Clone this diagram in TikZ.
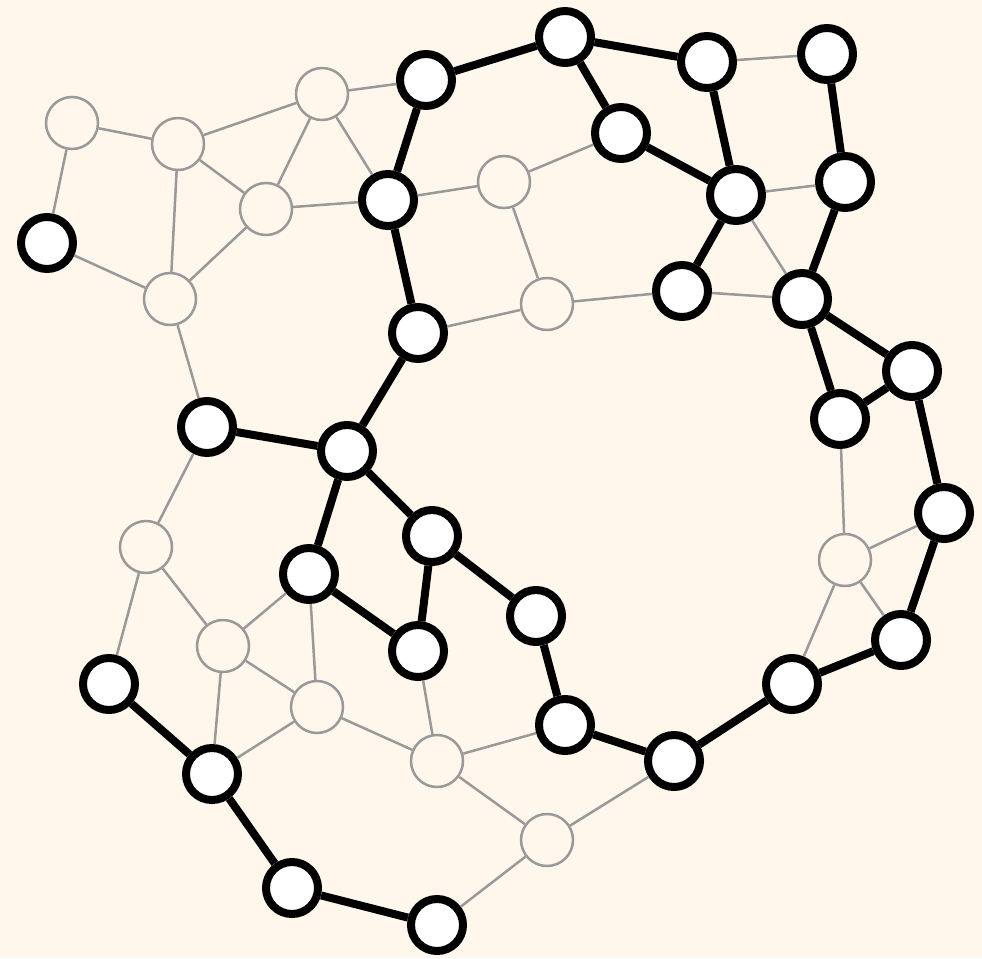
\documentclass[tikz,border=0pt]{standalone}
\definecolor{bgc}{HTML}{FFF7EB}
\definecolor{fade}{HTML}{999999}
\tikzset{
  bnode/.style={circle, draw=black, fill=white, line width=8pt, minimum size=52pt, inner sep=0pt},
  gnode/.style={circle, draw=fade, fill=bgc, line width=2.5pt, minimum size=52pt, inner sep=0pt},
  bedge/.style={draw=black, line width=8pt},
  gedge/.style={draw=fade, line width=2.5pt}
}
\begin{document}
\begin{tikzpicture}[x=1pt,y=-1pt]
\fill[bgc] (0,0) rectangle (982,958);
\useasboundingbox (0,0) rectangle (982,958);
% bold nodes
\node[bnode] (b1) at (565,37) {};
\node[bnode] (b2) at (707,62) {};
\node[bnode] (b3) at (827,54) {};
\node[bnode] (b4) at (426,80) {};
\node[bnode] (b5) at (621,133) {};
\node[bnode] (b6) at (736,195) {};
\node[bnode] (b7) at (845,182) {};
\node[bnode] (b8) at (388,200) {};
\node[bnode] (b9) at (47,243) {};
\node[bnode] (b10) at (682,291) {};
\node[bnode] (b11) at (802,299) {};
\node[bnode] (b12) at (418,333) {};
\node[bnode] (b13) at (912,371) {};
\node[bnode] (b14) at (840,419) {};
\node[bnode] (b15) at (207,427) {};
\node[bnode] (b16) at (347,451) {};
\node[bnode] (b17) at (944,513) {};
\node[bnode] (b18) at (432,536) {};
\node[bnode] (b19) at (309,574) {};
\node[bnode] (b20) at (536,616) {};
\node[bnode] (b21) at (418,651) {};
\node[bnode] (b22) at (901,640) {};
\node[bnode] (b23) at (109,684) {};
\node[bnode] (b24) at (792,684) {};
\node[bnode] (b25) at (565,725) {};
\node[bnode] (b26) at (674,761) {};
\node[bnode] (b27) at (212,774) {};
\node[bnode] (b28) at (292,888) {};
\node[bnode] (b29) at (437,925) {};
% grey nodes
\node[gnode] (g1) at (72,123) {};
\node[gnode] (g2) at (178,144) {};
\node[gnode] (g3) at (322,94) {};
\node[gnode] (g4) at (266,209) {};
\node[gnode] (g5) at (504,182) {};
\node[gnode] (g6) at (170,299) {};
\node[gnode] (g7) at (547,304) {};
\node[gnode] (g8) at (146,547) {};
\node[gnode] (g9) at (845,560) {};
\node[gnode] (g10) at (223,646) {};
\node[gnode] (g11) at (317,707) {};
\node[gnode] (g12) at (437,761) {};
\node[gnode] (g13) at (547,840) {};
% grey edges
\foreach \a/\b in {g1/g2, g1/b9, b9/g6, g2/g3, g2/g4, g2/g6, g3/g4, g3/b4, g3/b8, g4/g6, g4/b8,
  b8/g5, g5/b5, g5/g7, b12/g7, g7/b10, b10/b11, b2/b3, b6/b7, b6/b11, g6/b15, b15/g8,
  g8/b23, g8/g10, g10/b19, g10/g11, g10/b27, b19/g11, g11/b27, g11/g12, b21/g12,
  g12/b25, g12/g13, g13/b26, g13/b29, b14/g9, g9/b17, g9/b22, g9/b24}
  \draw[gedge] (\a) -- (\b);
% bold edges
\foreach \a/\b in {b4/b1, b1/b2, b1/b5, b5/b6, b2/b6, b3/b7, b7/b11, b6/b10, b4/b8, b8/b12,
  b12/b16, b15/b16, b16/b19, b16/b18, b19/b21, b18/b21, b18/b20, b20/b25, b25/b26,
  b26/b24, b24/b22, b22/b17, b17/b13, b13/b11, b11/b14, b14/b13, b23/b27, b27/b28, b28/b29}
  \draw[bedge] (\a) -- (\b);
\end{tikzpicture}
\end{document}
